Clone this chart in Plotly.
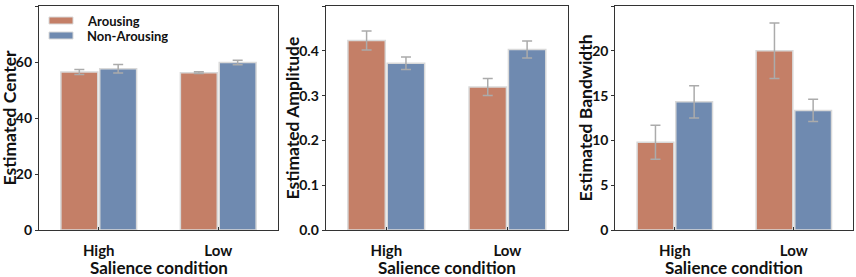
import plotly.graph_objects as go
from plotly.subplots import make_subplots

categories = ["High", "Low"]
series_names = ["Arousing", "Non-Arousing"]

center_arousing = [56.4, 56.2]
center_arousing_err = [0.9, 0.3]
center_non = [57.6, 59.8]
center_non_err = [1.5, 0.8]

amp_arousing = [0.423, 0.319]
amp_arousing_err = [0.021, 0.019]
amp_non = [0.372, 0.403]
amp_non_err = [0.014, 0.019]

bw_arousing = [9.8, 20.0]
bw_arousing_err = [1.9, 3.1]
bw_non = [14.3, 13.35]
bw_non_err = [1.8, 1.25]

x_title = "Salience condition"
y_titles = ["Estimated Center", "Estimated Amplitude", "Estimated Bandwidth"]
y_ranges = [[0, 80], [0, 0.5], [0, 25]]
y_dticks = [20, 0.1, 5]
y_formats = ["d", ".1f", "d"]

C_AR = "#C47F67"
C_NON = "#6F8AB0"
FONT = "Lato"
W, H = 856, 277

fig = make_subplots(rows=1, cols=3)

panels = [
    (center_arousing, center_arousing_err, center_non, center_non_err),
    (amp_arousing, amp_arousing_err, amp_non, amp_non_err),
    (bw_arousing, bw_arousing_err, bw_non, bw_non_err),
]

for i, (a, ae, n, ne) in enumerate(panels):
    col = i + 1
    fig.add_trace(go.Bar(x=categories, y=a, name=series_names[0],
                         marker=dict(color=C_AR, line=dict(color="#D9D9D9", width=1.5)),
                         error_y=dict(type="data", array=ae, color="#ABABAB", thickness=1.5, width=5),
                         showlegend=False), row=1, col=col)
    fig.add_trace(go.Bar(x=categories, y=n, name=series_names[1],
                         marker=dict(color=C_NON, line=dict(color="#D9D9D9", width=1.5)),
                         error_y=dict(type="data", array=ne, color="#ABABAB", thickness=1.5, width=5),
                         showlegend=False), row=1, col=col)

x_px = [[39, 278], [325.7, 568], [615.3, 853.3]]
y_px = [6, 230]
y_domain = [1 - y_px[1] / H, 1 - y_px[0] / H]
ytitle_x = [8.5, 291.5, 584.5]

for i in range(3):
    xa = "xaxis" if i == 0 else f"xaxis{i+1}"
    ya = "yaxis" if i == 0 else f"yaxis{i+1}"
    dom = [x_px[i][0] / W, x_px[i][1] / W]
    fig.layout[xa].update(domain=dom, range=[-0.5, 1.5], showline=True, linecolor="#333333", linewidth=1.2,
                          mirror=True, ticks="inside", ticklen=3, tickcolor="#333333", ticklabelstandoff=7,
                          tickfont=dict(family=FONT, size=15, color="#111111", weight="bold"),
                          automargin=False, showgrid=False)
    fig.layout[ya].update(domain=y_domain, range=y_ranges[i], dtick=y_dticks[i], tickformat=y_formats[i],
                          showline=True, linecolor="#333333", linewidth=1.2, mirror=True,
                          ticks="outside", ticklen=3, tickcolor="#333333",
                          tickfont=dict(family=FONT, size=14, color="#111111", weight="bold"),
                          automargin=False, showgrid=False, zeroline=False)
    # axis titles
    fig.add_annotation(xref="paper", yref="paper", x=(dom[0] + dom[1]) / 2, y=1 - 267 / H, text=x_title,
                       showarrow=False, xanchor="center", yanchor="middle",
                       font=dict(family=FONT, size=17, color="#111111", weight="bold"))
    fig.add_annotation(xref="paper", yref="paper", x=ytitle_x[i] / W, y=(y_domain[0] + y_domain[1]) / 2,
                       text=y_titles[i], textangle=-90, showarrow=False, xanchor="center", yanchor="middle",
                       font=dict(family=FONT, size=17.5, color="#111111", weight="bold"))

# legend drawn in the first panel
leg_y = [20.5, 35.5]
for k, (name, c) in enumerate(zip(series_names, [C_AR, C_NON])):
    yc = 1 - leg_y[k] / H
    fig.add_shape(type="rect", xref="paper", yref="paper", x0=49 / W, x1=73 / W,
                  y0=yc - 3.5 / H, y1=yc + 3.5 / H, fillcolor=c, line=dict(color="#D9D9D9", width=1))
    fig.add_annotation(xref="paper", yref="paper", x=86 / W, y=yc, text=name, showarrow=False,
                       xanchor="left", yanchor="middle", height=15, borderpad=0,
                       font=dict(family=FONT, size=13, color="#111111", weight="bold"))

fig.update_layout(width=W, height=H, margin=dict(l=0, r=0, t=0, b=0), barmode="group",
                  bargap=0.35, bargroupgap=0.05, plot_bgcolor="white", paper_bgcolor="white")

fig.write_html("out.html", config={"displayModeBar": False},
               post_script="document.body.style.margin='0';")
